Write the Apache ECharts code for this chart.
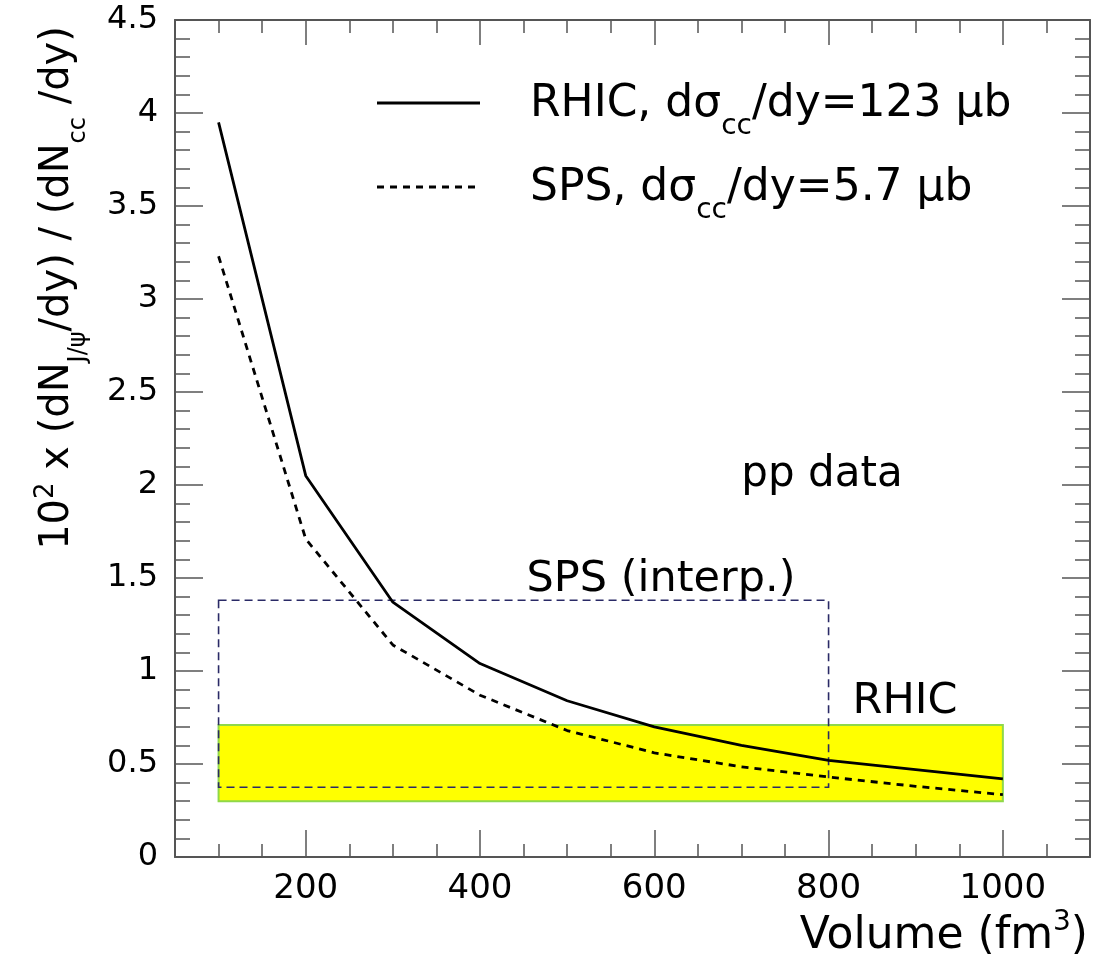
<!DOCTYPE html>
<html>
<head>
<meta charset="utf-8">
<script src="https://cdn.jsdelivr.net/npm/echarts@6/dist/echarts.min.js"></script>
<style>html,body{margin:0;padding:0;background:#fff;}#c{width:1094px;height:977px;}</style>
</head>
<body>
<div id="c"></div>
<script>
// ---- data ----
const volumes = [100, 200, 300, 400, 500, 600, 700, 800, 900, 1000];
const rhic = [3.95, 2.05, 1.37, 1.04, 0.84, 0.70, 0.60, 0.52, 0.47, 0.42];
const sps = [3.23, 1.71, 1.14, 0.87, 0.68, 0.56, 0.485, 0.43, 0.38, 0.335];
const xTickLabels = [200, 400, 600, 800, 1000];
const bandRHIC = [100, 1000, 0.30, 0.71];   // x0, x1, y0, y1
const boxSPS = [100, 800, 0.375, 1.38];     // x0, x1, y0, y1

const FONT = 'DejaVu Sans';
const AX = '#555';
const chart = echarts.init(document.getElementById('c'), null, {renderer: 'canvas'});

function pairs(xs, ys) { return xs.map((x, i) => [x, ys[i]]); }

const rich = {
  n: {fontFamily: FONT, fontSize: 44, lineHeight: 72, verticalAlign: 'middle', color: '#000'},
  s: {fontFamily: FONT, fontSize: 28, lineHeight: 72, verticalAlign: 'bottom', color: '#000'},
  p: {fontFamily: FONT, fontSize: 28, lineHeight: 72, verticalAlign: 'top', color: '#000', padding: [8, 0, 0, 0]}
};
const richT = {
  n: {fontFamily: FONT, fontSize: 40, lineHeight: 66, verticalAlign: 'middle', color: '#000'},
  s: {fontFamily: FONT, fontSize: 24, lineHeight: 66, verticalAlign: 'bottom', color: '#000'},
  p: {fontFamily: FONT, fontSize: 26, lineHeight: 66, verticalAlign: 'top', color: '#000', padding: [8, 0, 0, 0]}
};

function rectItem(style) {
  return function (params, api) {
    const p0 = api.coord([api.value(0), api.value(3)]);
    const p1 = api.coord([api.value(1), api.value(2)]);
    return {type: 'rect', shape: {x: p0[0], y: p0[1], width: p1[0] - p0[0], height: p1[1] - p0[1]}, style: style};
  };
}

const xCommon = {type: 'value', min: 50, max: 1100, splitLine: {show: false}};
const yCommon = {type: 'value', min: 0, max: 4.5, interval: 0.5, splitLine: {show: false}};

chart.setOption({
  animation: false,
  backgroundColor: '#fff',
  grid: {left: 175, right: 4, top: 20, bottom: 120, containLabel: false},
  xAxis: [
    Object.assign({}, xCommon, {position: 'bottom',
      axisLine: {show: true, lineStyle: {color: AX, width: 2}},
      axisTick: {show: true, inside: true, length: 27, customValues: xTickLabels, lineStyle: {color: AX, width: 1.5}},
      axisLabel: {show: true, customValues: xTickLabels, margin: 15, fontFamily: FONT, fontSize: 34, color: '#000',
        formatter: v => String(v)}}),
    Object.assign({}, xCommon, {position: 'bottom', interval: 50,
      axisLine: {show: false},
      axisTick: {show: true, inside: true, length: 13, lineStyle: {color: AX, width: 1.5}},
      axisLabel: {show: false}}),
    Object.assign({}, xCommon, {position: 'top',
      axisLine: {show: true, lineStyle: {color: AX, width: 2}},
      axisTick: {show: true, inside: true, length: 25, customValues: xTickLabels, lineStyle: {color: AX, width: 1.5}},
      axisLabel: {show: false}}),
    Object.assign({}, xCommon, {position: 'top', interval: 50,
      axisLine: {show: false},
      axisTick: {show: true, inside: true, length: 13, lineStyle: {color: AX, width: 1.5}},
      axisLabel: {show: false}})
  ],
  yAxis: [
    Object.assign({}, yCommon, {position: 'left',
      axisLine: {show: true, lineStyle: {color: AX, width: 2}},
      axisTick: {show: true, inside: true, length: 28, lineStyle: {color: AX, width: 1.5}},
      minorTick: {show: true, splitNumber: 5, length: 15, lineStyle: {color: AX, width: 1.5}},
      axisLabel: {show: true, margin: 17, fontFamily: FONT, fontSize: 32, color: '#000', formatter: v => String(v)}}),
    Object.assign({}, yCommon, {position: 'right',
      axisLine: {show: true, lineStyle: {color: AX, width: 2}},
      axisTick: {show: true, inside: true, length: 28, lineStyle: {color: AX, width: 1.5}},
      minorTick: {show: true, splitNumber: 5, length: 15, lineStyle: {color: AX, width: 1.5}},
      axisLabel: {show: false}})
  ],
  series: [
    {type: 'custom', z: 1, xAxisIndex: 0, yAxisIndex: 0, data: [bandRHIC],
      renderItem: rectItem({fill: '#ffff00', stroke: '#8fd84a', lineWidth: 2})},
    {type: 'custom', z: 2, xAxisIndex: 0, yAxisIndex: 0, data: [boxSPS],
      renderItem: rectItem({fill: 'none', stroke: '#2a2a66', lineWidth: 1.6, lineDash: [8, 5]})},
    {name: 'RHIC', type: 'line', z: 3, xAxisIndex: 0, yAxisIndex: 0, data: pairs(volumes, rhic),
      showSymbol: false, symbol: 'none', lineStyle: {color: '#000', width: 2.8, type: 'solid'}},
    {name: 'SPS', type: 'line', z: 3, xAxisIndex: 0, yAxisIndex: 0, data: pairs(volumes, sps),
      showSymbol: false, symbol: 'none', lineStyle: {color: '#000', width: 2.8, type: [7, 6]}}
  ],
  graphic: [
    {type: 'line', shape: {x1: 377, y1: 103, x2: 480, y2: 103}, style: {stroke: '#000', lineWidth: 2.8}},
    {type: 'line', shape: {x1: 377, y1: 187, x2: 480, y2: 187}, style: {stroke: '#000', lineWidth: 2.8, lineDash: [7, 6]}},
    {type: 'text', x: 530, y: 105, style: {text: '{n|RHIC, dσ}{s|cc}{n|/dy=123 μb}', rich: rich, verticalAlign: 'middle', align: 'left'}},
    {type: 'text', x: 530, y: 189, style: {text: '{n|SPS, dσ}{s|cc}{n|/dy=5.7 μb}', rich: rich, verticalAlign: 'middle', align: 'left'}},
    {type: 'text', x: 822, y: 475, style: {text: 'pp data', fontFamily: FONT, fontSize: 42, fill: '#000', align: 'center', verticalAlign: 'middle'}},
    {type: 'text', x: 661, y: 580, style: {text: 'SPS (interp.)', fontFamily: FONT, fontSize: 43, fill: '#000', align: 'center', verticalAlign: 'middle'}},
    {type: 'text', x: 905, y: 702, style: {text: 'RHIC', fontFamily: FONT, fontSize: 43, fill: '#000', align: 'center', verticalAlign: 'middle'}},
    {type: 'text', x: 1088, y: 937, style: {text: '{n|Volume (fm}{p|3}{n|)}', rich: rich, align: 'right', verticalAlign: 'middle'}},
    {type: 'text', x: 58, y: 288, rotation: Math.PI / 2,
      style: {text: '{n|10}{p|2}{n| x (dN}{s|J/ψ}{n|/dy) / (dN}{s|cc}{n| /dy)}', rich: richT, align: 'center', verticalAlign: 'middle'}}
  ]
});
</script>
</body>
</html>
